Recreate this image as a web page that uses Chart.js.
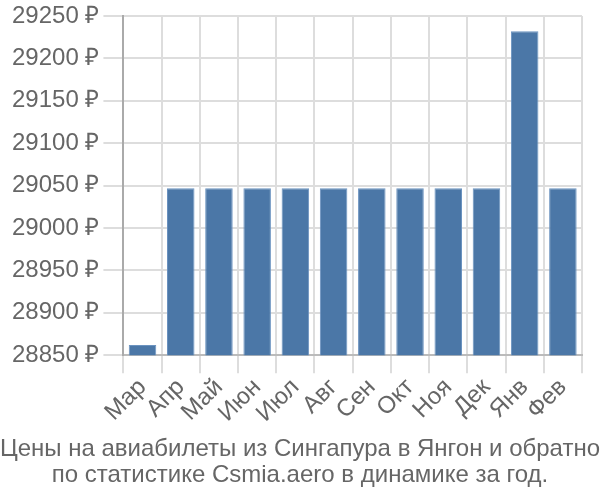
<!DOCTYPE html>
<html>
<head>
<meta charset="utf-8">
<script src="https://cdn.jsdelivr.net/npm/chart.js@4"></script>
<style>
  html, body { margin: 0; padding: 0; background: #fff; }
  #wrap { width: 600px; height: 500px; }
</style>
</head>
<body>
<div id="wrap"><canvas id="chart"></canvas></div>
<script>
"use strict"

const months = ["Мар", "Апр", "Май", "Июн", "Июл", "Авг", "Сен", "Окт", "Ноя", "Дек", "Янв", "Фев"]
const prices = [28862, 29047, 29047, 29047, 29047, 29047, 29047, 29047, 29047, 29047, 29232, 29047]
const yMin = 28850
const yMax = 29250
const yStep = 50
const titleLines = ["Цены на авиабилеты из Сингапура в Янгон и обратно", "по статистике Csmia.aero в динамике за год."]

const textColor = "#666"
const fontFamily = "'Liberation Sans', Arial, sans-serif"

const data = {
    labels: months,
    datasets: [
        {
            data: prices,
            backgroundColor: "#4b77a7",
            borderColor: "#6b93c0",
            borderWidth: 1,
            barPercentage: 0.9,
            categoryPercentage: 0.8,
        },
    ]
}

const config = {
    type: "bar",
    data: data,
    options: {
        responsive: true,
        maintainAspectRatio: false,
        animation: false,
        // no side padding here, so the long title line is not squeezed
        layout: { padding: { left: 0, right: 0, top: 0, bottom: 0 } },
        plugins: {
            legend: { display: false },
            tooltip: { enabled: false },
            title: {
                display: true,
                position: "bottom",
                text: titleLines,
                color: textColor,
                font: { family: fontFamily, size: 24, weight: "normal", lineHeight: 1.083 },
                padding: { top: 8, bottom: 12 },
            },
        },
        scales: {
            x: {
                grid: { color: "#ddd", lineWidth: 2, tickLength: 18 },
                border: { color: "#bbb", width: 2 },
                ticks: {
                    color: textColor,
                    font: { family: fontFamily, size: 24 },
                    maxRotation: 45,
                    minRotation: 45,
                    autoSkip: false,
                    padding: 0,
                },
            },
            y: {
                min: yMin,
                max: yMax,
                grid: { color: "#ddd", lineWidth: 2, tickLength: 20 },
                border: { color: "#aaa", width: 2 },
                ticks: {
                    stepSize: yStep,
                    color: textColor,
                    font: { family: fontFamily, size: 24, lineHeight: 1.0 },
                    padding: 4,
                    callback: (v) => v + " ₽",
                },
                afterFit: (axis) => { axis.width += 8 },
            },
            // empty axis on the right, just to leave a gap there
            gap: {
                type: "linear",
                position: "right",
                grid: { display: false },
                border: { display: false },
                ticks: { display: false },
                afterFit: (axis) => { axis.width = 18 },
            },
        },
    },
}

new Chart(document.getElementById("chart"), config)
</script>
</body>
</html>
